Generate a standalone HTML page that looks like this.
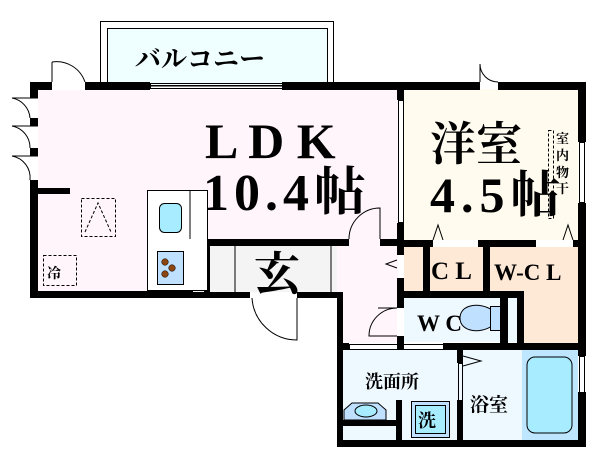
<!DOCTYPE html>
<html><head><meta charset="utf-8"><style>
html,body{margin:0;padding:0;background:#fff}
svg{display:block}
text{font-family:"Liberation Serif","Noto Serif CJK JP","Noto Serif CJK SC",serif;font-weight:bold;fill:#000}
</style></head><body>
<svg width="600" height="476" viewBox="0 0 600 476" xmlns="http://www.w3.org/2000/svg">
<rect x="100.5" y="21.5" width="233" height="64" fill="#fff" stroke="#000"/>
<rect x="107.5" y="28.5" width="220" height="57" fill="#effeff" stroke="#000"/>
<text x="135" y="68" font-size="26" font-weight="normal">バルコニー</text>
<rect x="38" y="90" width="360" height="202" fill="#fff5fa"/>
<rect x="404" y="89" width="174" height="151" fill="#fffbef"/>
<rect x="193" y="246" width="144" height="46" fill="#f4f4f4"/>
<rect x="343" y="246" width="54" height="97" fill="#fff5fa"/>
<rect x="404" y="247" width="174" height="44" fill="#fde9d6"/>
<rect x="524" y="291" width="54" height="52" fill="#fde9d6"/>
<rect x="404" y="298" width="120" height="44" fill="#eef8ff"/>
<rect x="343" y="350" width="235" height="90" fill="#eef8ff"/>
<rect x="522" y="350" width="56" height="90" fill="#bfe6ff"/>
<rect x="527" y="357" width="45" height="76" rx="8" fill="#a8ecff" stroke="#000"/>
<g fill="#000">
<rect x="30" y="82" width="22" height="8"/>
<rect x="85" y="82" width="65" height="8"/>
<rect x="282" y="82" width="198" height="8"/>
<rect x="498" y="82" width="88" height="8"/>
<rect x="30" y="82" width="8" height="16"/>
<rect x="30" y="118" width="8" height="8"/>
<rect x="30" y="148" width="8" height="8"/>
<rect x="30" y="180" width="8" height="118"/>
<rect x="38" y="188" width="32" height="6"/>
<rect x="30" y="291" width="163" height="7"/>
<rect x="187" y="239" width="6" height="59"/>
<rect x="204" y="246" width="6" height="46"/>
<rect x="187" y="239" width="162" height="7"/>
<rect x="380" y="239" width="24" height="7"/>
<rect x="187" y="292" width="63" height="6"/>
<rect x="297" y="292" width="46" height="6"/>
<rect x="337" y="292" width="6" height="155"/>
<rect x="397" y="82" width="7" height="18"/>
<rect x="397" y="223" width="7" height="24"/>
<rect x="397" y="240" width="36" height="7"/>
<rect x="478" y="240" width="58" height="7"/>
<rect x="573" y="240" width="13" height="7"/>
<rect x="578" y="82" width="8" height="60"/>
<rect x="578" y="203" width="8" height="153"/>
<rect x="578" y="392" width="8" height="55"/>
<rect x="397" y="247" width="7" height="8"/>
<rect x="397" y="278" width="7" height="30"/>
<rect x="397" y="336" width="7" height="14"/>
<rect x="423" y="247" width="7" height="51"/>
<rect x="483" y="247" width="7" height="51"/>
<rect x="404" y="291" width="120" height="7"/>
<rect x="500" y="298" width="8" height="45"/>
<rect x="517" y="291" width="7" height="52"/>
<rect x="337" y="343" width="12" height="7"/>
<rect x="443" y="343" width="143" height="7"/>
<rect x="337" y="440" width="249" height="7"/>
<rect x="457" y="350" width="6" height="13"/>
<rect x="457" y="400" width="6" height="40"/>
<rect x="396" y="400" width="6" height="40"/>
<rect x="343" y="420" width="53" height="6"/>
</g>
<g fill="none" stroke="#000" stroke-width="1">
<rect x="150.5" y="83.5" width="132" height="5"/>
<line x1="150" y1="86" x2="282" y2="86"/>
<rect x="398.5" y="100.5" width="5" height="122"/>
<rect x="579.5" y="142.5" width="5" height="60"/>
<rect x="579.5" y="356.5" width="5" height="36"/>
<rect x="349.5" y="344.5" width="94" height="5"/>
<rect x="458.5" y="363.5" width="4" height="37"/>
<line x1="235" y1="246" x2="235" y2="292"/>
<line x1="331" y1="246" x2="331" y2="292"/>
<path d="M52 82 V62 M52 62 A30 30 0 0 1 85 82"/>
<path d="M38 98 H12 A22 22 0 0 1 30 118"/>
<path d="M38 126 H12 A22 22 0 0 1 30 148"/>
<path d="M38 156 H12 A22 22 0 0 1 30 180"/>
<path d="M297 298 V340 A45 45 0 0 1 252 298"/>
<path d="M380 239 V208 A31 31 0 0 0 349 239"/>
<path d="M480 82 V64 A18 18 0 0 0 498 82"/>
<path d="M397 308 H378 M397 308 A28 28 0 0 0 369 336 H397"/>
<path d="M433 240 L438 225 L443 240"/>
<path d="M563 240 L568 225 L573 240"/>
<path d="M397 260 L386 264 L397 268"/>
<path d="M463 356 L481 361 L463 366"/>
<rect x="548.5" y="130.5" width="5" height="88" stroke-dasharray="3,2"/>
<rect x="81.5" y="198.5" width="34" height="38" stroke-dasharray="3,2"/>
<path d="M85 232 L98 203 L111 232" stroke-dasharray="3,2"/>
<rect x="43.5" y="255.5" width="33" height="30" stroke-dasharray="3,2"/>
<rect x="147.5" y="190.5" width="60" height="100" fill="#fff"/>
<line x1="190" y1="190" x2="190" y2="239"/>
</g>
<rect x="159.5" y="203.5" width="22" height="29" rx="5" fill="#a8ecff" stroke="#000"/>
<rect x="157.5" y="251.5" width="26" height="33" fill="#bfe0ff" stroke="#000"/>
<g fill="#8b4513" stroke="#000" stroke-width="0.5">
<circle cx="165" cy="262" r="3.3"/><circle cx="172" cy="268" r="3.3"/><circle cx="165" cy="274" r="3.3"/>
</g>
<path d="M460 318 C460 304 480 302 492 310 V326 C480 334 460 332 460 318 Z" fill="#bfe0ff" stroke="#000"/>
<rect x="490.5" y="306.5" width="10" height="24" fill="#bfe0ff" stroke="#000"/>
<path d="M344 420 V410 L352 403 H378 L386 410 V420 Z" fill="#bfe0ff" stroke="#000"/>
<ellipse cx="366" cy="411" rx="11" ry="6" fill="#a8ecff" stroke="#000"/>
<rect x="411.5" y="401.5" width="38" height="36" fill="#bfe0ff" stroke="#000"/>
<rect x="415.5" y="405.5" width="30" height="28" fill="#a8ecff" stroke="#000"/>
<text x="205" y="158" font-size="50">L D K</text>
<text x="203" y="210" font-size="52" letter-spacing="5">10.4帖</text>
<text x="430" y="160" font-size="46">洋室</text>
<text x="430" y="212" font-size="50" letter-spacing="6">4.5帖</text>
<text font-size="13" font-weight="normal"><tspan x="556" y="143">室</tspan><tspan x="556" y="160">内</tspan><tspan x="556" y="177">物</tspan><tspan x="556" y="193">干</tspan></text>
<text x="254" y="290" font-size="46">玄</text>
<text x="431" y="279" font-size="25">C L</text>
<text x="494" y="280" font-size="23">W-C L</text>
<text x="417" y="331" font-size="23">W C</text>
<text x="365" y="388" font-size="18">洗面所</text>
<text x="470" y="411" font-size="19">浴室</text>
<text x="418" y="427" font-size="18">洗</text>
<text x="47" y="278" font-size="14">冷</text>
</svg>
</body></html>
